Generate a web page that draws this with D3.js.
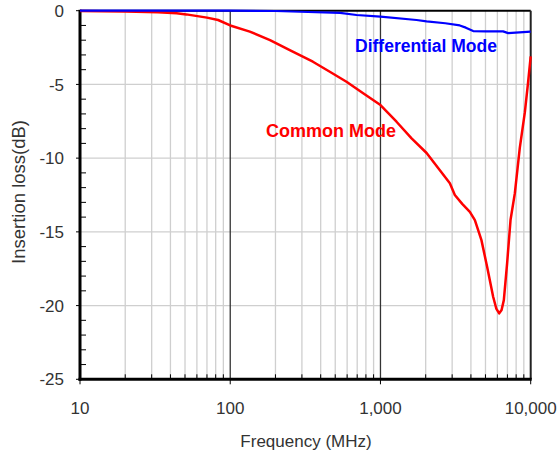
<!DOCTYPE html>
<html>
<head>
<meta charset="utf-8">
<script src="https://cdn.jsdelivr.net/npm/d3@7"></script>
<style>
  html, body { margin: 0; padding: 0; background: #fff; }
  svg { display: block; }
  text { font-family: "Liberation Sans", Arial, sans-serif; }
</style>
</head>
<body>
<svg id="chart" width="560" height="459"></svg>
<script>
// Insertion loss of a common-mode choke, in dB, against frequency in MHz
const commonFreq = [10, 20, 33, 44, 51, 70, 83, 100, 135, 184, 249, 355, 460, 594, 767, 1000,
  1279, 1611, 2028, 2500, 2897, 3126, 3500, 3935, 4250, 4700, 5127, 5624, 5900, 6170, 6400,
  6625, 6966, 7340, 7840, 8460, 9140, 9600, 10000];
const commonLoss = [-0.02, -0.05, -0.1, -0.18, -0.25, -0.47, -0.63, -1.0, -1.42, -1.99, -2.67, -3.46, -4.14, -4.82, -5.6, -6.4,
  -7.53, -8.66, -9.65, -10.85, -11.71, -12.5, -13.1, -13.64, -14.2, -15.56, -17.37, -19.4, -20.2, -20.53, -20.3,
  -19.63, -17.14, -14.2, -12.39, -9.3, -6.9, -4.9, -3.1];

const diffFreq = [10, 100, 200, 291, 538, 693, 1000, 1738, 2028, 2700, 3373, 3700, 4140, 5000, 6545, 7080, 7500, 10000];
const diffLoss = [0, 0, -0.02, -0.07, -0.15, -0.29, -0.4, -0.63, -0.72, -0.85, -1.0, -1.15, -1.38, -1.4, -1.4, -1.52, -1.5, -1.42];

const xTickValues = [10, 100, 1000, 10000];
const xTickLabels = ["10", "100", "1,000", "10,000"];
const yTickValues = [0, -5, -10, -15, -20, -25];
const yTickLabels = ["0", "-5", "-10", "-15", "-20", "-25"];
const seriesNames = ["Common Mode", "Differential Mode"];
const xTitle = "Frequency (MHz)";
const yTitle = "Insertion loss(dB)";

const svg = d3.select("#chart");
const plotLeft = 80, plotRight = 530.7, plotTop = 10.7, plotBottom = 379.3;

const x = d3.scaleLog().domain([10, 10000]).range([plotLeft, plotRight]);
const y = d3.scaleLinear().domain([-25, 0]).range([plotBottom, plotTop]);

// minor decade positions 20..90, 200..900, 2000..9000
const minorX = [];
for (let dec = 10; dec < 10000; dec *= 10) {
  for (let k = 2; k <= 9; k++) minorX.push(dec * k);
}
const minorY = d3.range(-24, 0, 1).filter(v => v % 5 !== 0);

const grid = svg.append("g");
grid.selectAll("line.vminor").data(minorX).join("line")
  .attr("x1", d => x(d)).attr("x2", d => x(d))
  .attr("y1", plotTop).attr("y2", plotBottom)
  .attr("stroke", "#cfcfcf").attr("stroke-width", 1.3);
grid.selectAll("line.hgrid").data(yTickValues.filter(v => v !== 0 && v !== -25)).join("line")
  .attr("x1", plotLeft).attr("x2", plotRight)
  .attr("y1", d => y(d)).attr("y2", d => y(d))
  .attr("stroke", "#cfcfcf").attr("stroke-width", 1.3);
grid.selectAll("line.vmajor").data(xTickValues.slice(1, -1)).join("line")
  .attr("x1", d => x(d)).attr("x2", d => x(d))
  .attr("y1", plotTop).attr("y2", plotBottom)
  .attr("stroke", "#333").attr("stroke-width", 1.3);

// frame: thin top and right, heavy left and bottom axes
svg.append("line").attr("x1", plotLeft).attr("x2", plotRight).attr("y1", plotTop).attr("y2", plotTop)
  .attr("stroke", "#000").attr("stroke-width", 2);
svg.append("line").attr("x1", plotRight).attr("x2", plotRight).attr("y1", plotTop).attr("y2", plotBottom)
  .attr("stroke", "#222").attr("stroke-width", 2);

// axis ticks
const ticks = svg.append("g").attr("stroke", "#000");
ticks.selectAll("line.ymin").data(minorY).join("line")
  .attr("x1", plotLeft).attr("x2", plotLeft + 6)
  .attr("y1", d => y(d)).attr("y2", d => y(d)).attr("stroke-width", 1);
ticks.selectAll("line.ymaj").data(yTickValues).join("line")
  .attr("x1", plotLeft - 4).attr("x2", plotLeft)
  .attr("y1", d => y(d)).attr("y2", d => y(d)).attr("stroke-width", 1);
ticks.selectAll("line.xmin").data(minorX).join("line")
  .attr("x1", d => x(d)).attr("x2", d => x(d))
  .attr("y1", plotBottom - 5).attr("y2", plotBottom).attr("stroke-width", 1);
ticks.selectAll("line.xmaj").data(xTickValues).join("line")
  .attr("x1", d => x(d)).attr("x2", d => x(d))
  .attr("y1", plotBottom).attr("y2", plotBottom + 5).attr("stroke-width", 1);

svg.append("line").attr("x1", plotLeft).attr("x2", plotLeft).attr("y1", plotTop - 1).attr("y2", plotBottom + 1.5)
  .attr("stroke", "#000").attr("stroke-width", 3);
svg.append("line").attr("x1", plotLeft - 1.5).attr("x2", plotRight + 1).attr("y1", plotBottom).attr("y2", plotBottom)
  .attr("stroke", "#000").attr("stroke-width", 3);

// tick labels
svg.append("g").selectAll("text").data(yTickValues).join("text")
  .attr("x", 64).attr("y", d => y(d)).attr("dy", "0.36em")
  .attr("text-anchor", "end").attr("font-size", 17).attr("fill", "#333")
  .text((d, i) => yTickLabels[i]);
svg.append("g").selectAll("text").data(xTickValues).join("text")
  .attr("x", d => x(d)).attr("y", 414)
  .attr("text-anchor", "middle").attr("font-size", 17).attr("fill", "#333")
  .text((d, i) => xTickLabels[i]);

// axis titles
svg.append("text").attr("x", 306).attr("y", 447)
  .attr("text-anchor", "middle").attr("font-size", 17).attr("fill", "#333")
  .text(xTitle);
svg.append("text").attr("transform", "translate(25,192) rotate(-90)")
  .attr("text-anchor", "middle").attr("font-size", 18.5).attr("fill", "#333")
  .text(yTitle);

// curves
const line = d3.line().x(d => x(d[0])).y(d => y(d[1]));
const commonData = d3.zip(commonFreq, commonLoss);
const diffData = d3.zip(diffFreq, diffLoss);

svg.append("path").datum(commonData).attr("d", line)
  .attr("fill", "none").attr("stroke", "#ff0000").attr("stroke-width", 2.5)
  .attr("stroke-linejoin", "round");
svg.append("path").datum(diffData).attr("d", line)
  .attr("fill", "none").attr("stroke", "#0000ff").attr("stroke-width", 2.2)
  .attr("stroke-linejoin", "round");

// series labels
svg.append("text").attr("x", 266).attr("y", 136.5)
  .attr("font-size", 18).attr("font-weight", "bold").attr("fill", "#ff0000")
  .text(seriesNames[0]);
svg.append("text").attr("x", 355).attr("y", 51.5)
  .attr("font-size", 17.5).attr("font-weight", "bold").attr("fill", "#0000ff")
  .text(seriesNames[1]);
</script>
</body>
</html>
